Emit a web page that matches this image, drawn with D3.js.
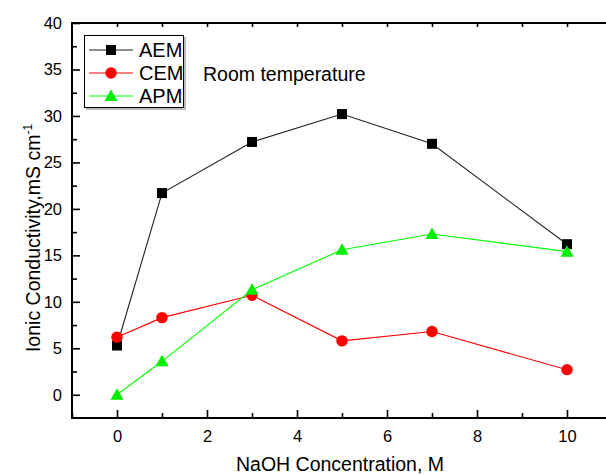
<!DOCTYPE html>
<html><head><meta charset="utf-8">
<script src="https://cdn.jsdelivr.net/npm/d3@7"></script>
<style>body{margin:0;background:#fff}svg{display:block}text{font-family:"Liberation Sans",Arial,sans-serif;fill:#000}</style>
</head><body>
<script>
const xValues = [0, 1, 3, 5, 7, 10];
const aem = [5.3, 21.7, 27.2, 30.2, 27.0, 16.2];
const cem = [6.2, 8.3, 10.7, 5.8, 6.8, 2.7];
const apm = [0.0, 3.6, 11.3, 15.6, 17.3, 15.4];
const seriesNames = ["AEM", "CEM", "APM"];
const xTicks = [0, 2, 4, 6, 8, 10];
const yTicks = [0, 5, 10, 15, 20, 25, 30, 35, 40];
const xTitle = "NaOH Concentration, M";
const yTitle = "Ionic Conductivity,mS cm";
const note = "Room temperature";

const W = 606, H = 475;
const svg = d3.select("body").append("svg").attr("width", W).attr("height", H);
const x = d3.scaleLinear().domain([-1, 11]).range([72, 612]);
const y = d3.scaleLinear().domain([-2.5, 40]).range([418, 23]);

const series = [
  {name: seriesNames[0], values: aem, color: "#000", line: "#222", shape: "square"},
  {name: seriesNames[1], values: cem, color: "#ff0000", line: "#ff0000", shape: "circle"},
  {name: seriesNames[2], values: apm, color: "#00ee00", line: "#00ff00", shape: "triangle"}
];

function marker(g, shape, cx, cy, color) {
  if (shape === "square") g.append("rect").attr("x", cx - 5).attr("y", cy - 5).attr("width", 10).attr("height", 10).attr("fill", color);
  else if (shape === "circle") g.append("circle").attr("cx", cx).attr("cy", cy).attr("r", 5.7).attr("fill", color);
  else g.append("path").attr("d", `M${cx},${cy - 6.5}L${cx + 6.5},${cy + 5}L${cx - 6.5},${cy + 5}Z`).attr("fill", color);
}

const bottom = svg.append("g").attr("transform", `translate(0,${y(-2.5)})`)
  .call(d3.axisBottom(x).tickValues(xTicks).tickSize(-8).tickPadding(12).tickFormat(d3.format("d")));
bottom.select(".domain").remove();
const bottomMinor = svg.append("g").attr("transform", `translate(0,${y(-2.5)})`)
  .call(d3.axisBottom(x).tickValues([-1,1,3,5,7,9,11]).tickSize(-5).tickFormat(""));
bottomMinor.select(".domain").remove();
const left = svg.append("g").attr("transform", `translate(${x(-1)},0)`)
  .call(d3.axisLeft(y).tickValues(yTicks).tickSize(-8).tickPadding(10).tickFormat(d3.format("d")));
left.select(".domain").remove();
const leftMinor = svg.append("g").attr("transform", `translate(${x(-1)},0)`)
  .call(d3.axisLeft(y).tickValues([2.5,7.5,12.5,17.5,22.5,27.5,32.5,37.5]).tickSize(-5).tickFormat(""));
leftMinor.select(".domain").remove();
const topMinor = svg.append("g").attr("transform", `translate(0,${y(40)})`)
  .call(d3.axisTop(x).tickValues(d3.range(0, 11, 1)).tickSize(-4).tickFormat(""));
topMinor.select(".domain").remove();
svg.selectAll(".tick line").attr("stroke", "#000").attr("stroke-width", 1.6);
svg.selectAll(".tick text").style("font-size", "16.5px").style("font-family", "Liberation Sans, Arial, sans-serif");

svg.append("line").attr("x1", x(-1)).attr("x2", W).attr("y1", y(-2.5)).attr("y2", y(-2.5)).attr("stroke", "#000").attr("stroke-width", 2);
svg.append("line").attr("x1", x(-1)).attr("x2", W).attr("y1", y(40)).attr("y2", y(40)).attr("stroke", "#000").attr("stroke-width", 2);
svg.append("line").attr("x1", x(-1)).attr("x2", x(-1)).attr("y1", y(40) - 1).attr("y2", y(-2.5) + 1).attr("stroke", "#000").attr("stroke-width", 2);

const lineGen = d3.line().x((d, i) => x(xValues[i])).y(d => y(d));
series.forEach(s => {
  svg.append("path").attr("d", lineGen(s.values)).attr("fill", "none").attr("stroke", s.line).attr("stroke-width", 1.1);
});
series.forEach(s => {
  const g = svg.append("g");
  s.values.forEach((v, i) => marker(g, s.shape, x(xValues[i]), y(v), s.color));
});

const lg = svg.append("g");
lg.append("rect").attr("x", 86).attr("y", 37).attr("width", 100).attr("height", 73).attr("fill", "#bbb");
lg.append("rect").attr("x", 84.5).attr("y", 35.5).attr("width", 99).attr("height", 72).attr("fill", "#fff").attr("stroke", "#000").attr("stroke-width", 1);
series.forEach((s, i) => {
  const cy = 50 + i * 23;
  lg.append("line").attr("x1", 89).attr("x2", 133).attr("y1", cy).attr("y2", cy).attr("stroke", s.line).attr("stroke-width", 1.1);
  marker(lg, s.shape, 111, cy, s.color);
  lg.append("text").attr("x", 139).attr("y", cy + 7).style("font-size", "20px").text(s.name);
});

svg.append("text").attr("x", 203).attr("y", 81).style("font-size", "19.5px").text(note);

svg.append("text").attr("x", x(5) - 2).attr("y", 471).attr("text-anchor", "middle").style("font-size", "19.5px").text(xTitle);
const yt = svg.append("text").attr("transform", `translate(40,238) rotate(-90)`).attr("text-anchor", "middle").style("font-size", "19.5px");
yt.append("tspan").text(yTitle);
yt.append("tspan").attr("dy", -8).style("font-size", "12px").text("-1");
</script>
</body></html>
